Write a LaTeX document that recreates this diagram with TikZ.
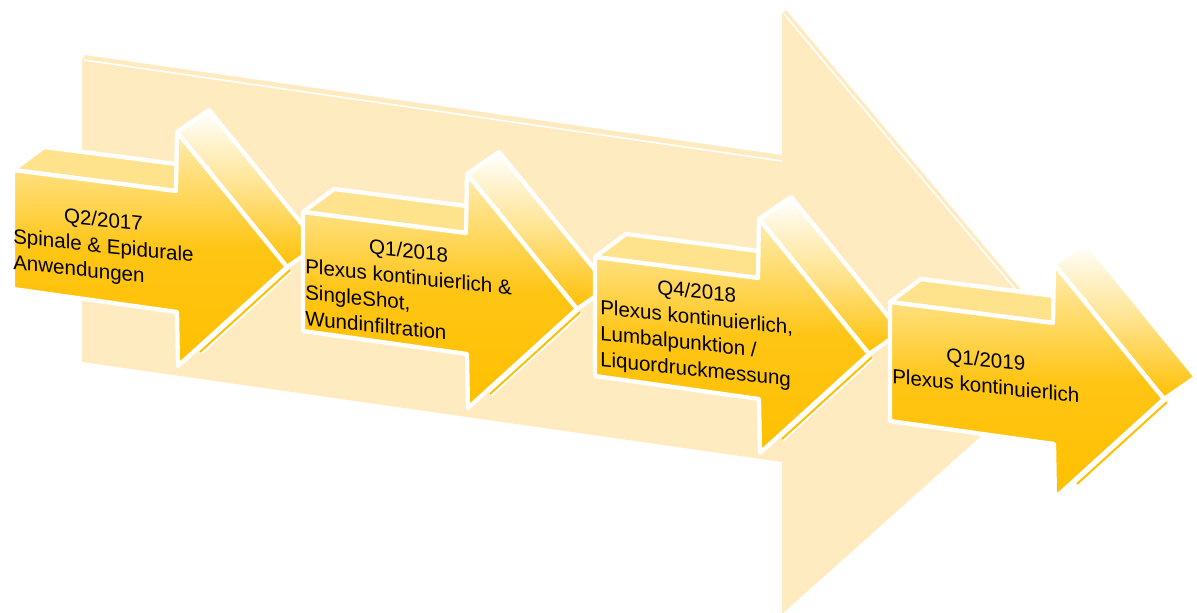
\documentclass[tikz,border=0pt]{standalone}
\usepackage{fontspec}
\setmainfont{Liberation Sans}
\definecolor{mpale}{HTML}{FFEBBF}
\definecolor{mgold}{HTML}{FFC000}
\definecolor{mlid}{HTML}{FFE38C}
\definecolor{mtop}{HTML}{FFEDB3}
\tikzstyle{edge} = [draw=white, line width=3.2pt, line join=round]
\tikzstyle{front} = [edge, top color=mtop, bottom color=mgold, middle color=mgold!92!white]
\tikzstyle{bevel} = [edge, top color=white, bottom color=mgold, middle color=mgold!45!white]
\tikzstyle{lid} = [edge, fill=mlid]
\tikzstyle{milestone} = [anchor=west, yslant=-0.105, inner sep=0pt, font=\fontsize{15.4}{19.5}\selectfont]
\tikzset{blockarrow/.pic={
  \path[bevel] (164,-38) -- (196,-60) -- (306,75) -- (274,97) -- cycle;
  \path[lid] (0,0) -- (31,-23) -- (195,-2) -- (163,21) -- cycle;
  \draw[white, line width=4.5pt] (277,100) -- (187,182);
  \draw[mgold, line width=1.5pt] (277,100) -- (187,182);
  \path[front] (0,0) -- (163,21) -- (164,-38) -- (274,97) -- (165,196) -- (164,142) -- (0,119) -- cycle;
}}

\begin{document}
\begin{tikzpicture}[x=0.75pt, y=-0.75pt]
  \useasboundingbox (0,0) rectangle (1197,612);
  % big background arrow
  \path[fill=mpale] (82,362) -- (82,60) -- (85,55) -- (782,155) -- (782,14) -- (786,10) -- (1074,353) -- (782,614) -- (782,462) -- cycle;
  \draw[white, line width=1.2pt] (84,60) -- (782,161) (784,14) -- (1068,352);
  % milestones
  \pic at (13,170) {blockarrow};
  \pic at (303,212) {blockarrow};
  \pic at (595,257) {blockarrow};
  \pic at (890,302) {blockarrow};
  \node (q2) [milestone] at (13,238) {\begin{tabular}{@{}l@{}}\multicolumn{1}{@{}c@{}}{Q2/2017}\\Spinale \& Epidurale\\Anwendungen\end{tabular}};
  \node (q1a) [milestone] at (305,281) {\begin{tabular}{@{}l@{}}\multicolumn{1}{@{}c@{}}{Q1/2018}\\Plexus kontinuierlich \&\\SingleShot,\\Wundinfiltration\end{tabular}};
  \node (q4) [milestone] at (600,322) {\begin{tabular}{@{}l@{}}\multicolumn{1}{@{}c@{}}{Q4/2018}\\Plexus kontinuierlich,\\Lumbalpunktion /\\Liquordruckmessung\end{tabular}};
  \node (q1b) [milestone] at (892,365) {\begin{tabular}{@{}l@{}}\multicolumn{1}{@{}c@{}}{Q1/2019}\\Plexus kontinuierlich\end{tabular}};
\end{tikzpicture}
\end{document}
